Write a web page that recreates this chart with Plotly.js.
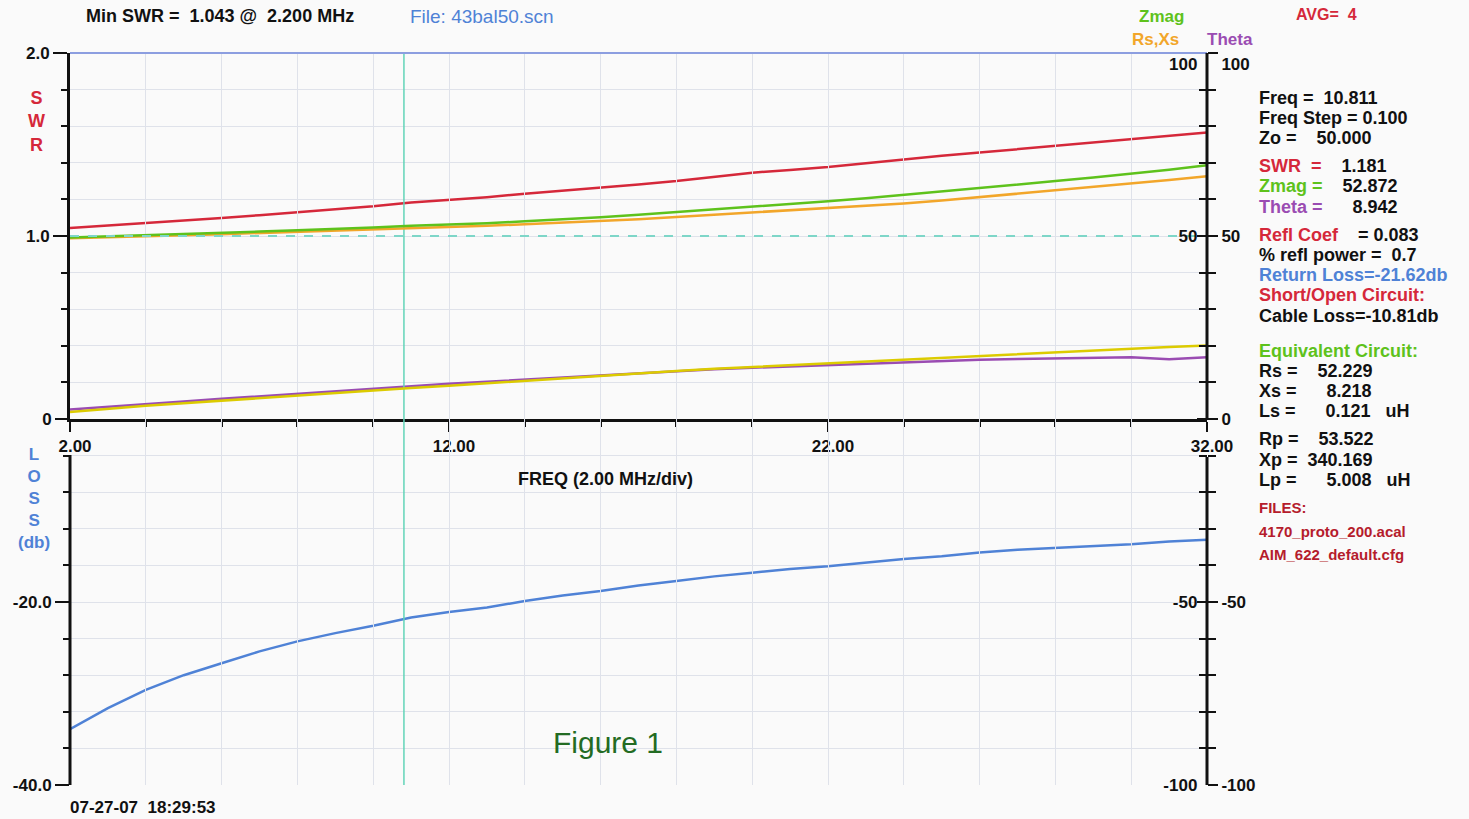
<!DOCTYPE html>
<html>
<head>
<meta charset="utf-8">
<script src="https://cdn.plot.ly/plotly-3.0.1.min.js"></script>
<style>html,body{margin:0;padding:0;background:#fafafa;}#chart{width:1469px;height:819px;}</style>
</head>
<body>
<div id="chart"></div>
<script>
// ---- data ----
const freqMHz = [2,3,4,5,6,7,8,9,10,11,12,13,14,15,16,17,18,19,20,21,22,23,24,25,26,27,28,29,30,31,32];
const swr     = [1.044,1.057,1.071,1.085,1.099,1.114,1.130,1.143,1.162,1.183,1.196,1.212,1.231,1.247,1.264,1.282,1.300,1.323,1.346,1.361,1.377,1.398,1.419,1.438,1.456,1.475,1.493,1.512,1.530,1.548,1.566];
const zmag    = [49.6,49.9,50.2,50.5,50.8,51.2,51.6,51.9,52.3,52.8,53.1,53.5,54.0,54.5,55.1,55.8,56.5,57.3,58.1,58.8,59.5,60.3,61.2,62.2,63.2,64.1,65.0,66.0,67.0,68.1,69.3];
const rs      = [49.4,49.6,49.9,50.2,50.5,50.8,51.1,51.4,51.7,52.1,52.4,52.8,53.2,53.6,54.1,54.6,55.2,55.8,56.4,57.0,57.6,58.2,58.9,59.7,60.6,61.5,62.4,63.3,64.3,65.3,66.3];
const xs      = [1.9,2.8,3.6,4.3,5.0,5.8,6.6,7.3,8.0,8.5,9.1,9.8,10.5,11.2,11.9,12.5,13.1,13.7,14.2,14.7,15.2,15.7,16.3,16.8,17.4,17.8,18.3,18.8,19.2,19.7,20.1];
const theta   = [2.6,3.4,4.1,4.8,5.5,6.2,6.9,7.6,8.4,9.0,9.6,10.2,10.8,11.4,12.0,12.6,13.1,13.6,14.0,14.4,14.8,15.2,15.6,15.9,16.2,16.4,16.5,16.7,16.9,16.3,16.9];
const lossDb  = [-33.9,-31.6,-29.6,-28.0,-26.7,-25.4,-24.3,-23.4,-22.6,-21.7,-21.1,-20.6,-19.9,-19.3,-18.8,-18.2,-17.7,-17.2,-16.8,-16.4,-16.1,-15.7,-15.3,-15.0,-14.6,-14.3,-14.1,-13.9,-13.7,-13.4,-13.2];
const cursorFreq = 10.811;
const refOhms = 50;
const freqRange = [2, 32];
const xTickVals = [2, 12, 22, 32];
const xTickText = ['2.00', '12.00', '22.00', '32.00'];
const swrTickVals = [1, 2];
const swrTickText = ['1.0', '2.0'];
const lossTickVals = [-40, -20, 0];
const lossTickText = ['-40.0', '-20.0', '0'];
const ohmTickVals = [-100, -50, 0, 50, 100];
const thetaTickText = ['-100', '-50', '0', '50', '<br>100'];
const rsxsTickText = ['-100', '-50', '', '50', '<br>100'];

// ---- colours ----
const C = {red:'#d5283a', green:'#5ec21c', orange:'#f2a62a', yellow:'#dccb00', purple:'#9a4cb2', blue:'#4f82d6',
           teal:'#62d4b8', dash:'#7ed6c8', grid:'#dfe2ea', top:'#8c9ee0', black:'#111', dkred:'#b51c2c', dkgreen:'#236b23'};

const L=70, R=1207, T=53, B=785;
const px = x => (x-L)/(R-L);
const py = y => (B-y)/(B-T);

const FONT = 'Liberation Sans, Arial, sans-serif';

const traces = [
  {x:freqMHz, y:lossDb, xaxis:'x', yaxis:'y2', mode:'lines', line:{color:C.blue, width:2.5}, name:'Loss'},
  {x:freqMHz, y:theta, xaxis:'x', yaxis:'y3', mode:'lines', line:{color:C.purple, width:2.5}, name:'Theta'},
  {x:freqMHz, y:xs, xaxis:'x', yaxis:'y4', mode:'lines', line:{color:C.yellow, width:2.5}, name:'Xs'},
  {x:freqMHz, y:rs, xaxis:'x', yaxis:'y4', mode:'lines', line:{color:C.orange, width:2.5}, name:'Rs'},
  {x:freqMHz, y:zmag, xaxis:'x', yaxis:'y4', mode:'lines', line:{color:C.green, width:2.5}, name:'Zmag'},
  {x:freqMHz, y:swr, xaxis:'x', yaxis:'y', mode:'lines', line:{color:C.red, width:2.5}, name:'SWR'},
  {x:freqRange, y:[refOhms, refOhms], xaxis:'x', yaxis:'y4', mode:'lines', line:{color:C.dash, width:2, dash:'dash'}, name:'Zo'},
  {x:[cursorFreq, cursorFreq], y:[-100, 100], xaxis:'x', yaxis:'y3', mode:'lines', line:{color:C.teal, width:1.5}, name:'cursor', cliponaxis:false}
];

const tickFont = {family:FONT, size:17, color:C.black, weight:'bold'};

const layout = {
  width:1469, height:819,
  margin:{l:L, r:1469-R, t:T, b:819-B},
  paper_bgcolor:'#fafafa', plot_bgcolor:'rgba(0,0,0,0)',
  showlegend:false,
  font:{family:FONT, size:17, color:C.black},
  xaxis:{
    domain:[0,1], range:freqRange, anchor:'y', side:'bottom',
    tickvals:xTickVals, ticktext:xTickText, tickfont:tickFont, ticklabelshift:5,
    ticks:'outside', ticklen:10, tickwidth:2, tickcolor:C.black,
    showline:true, linewidth:3, linecolor:C.black,
    showgrid:true, gridcolor:C.grid, gridwidth:1, zeroline:false,
    minor:{tick0:2, dtick:2, ticks:'outside', ticklen:5, tickwidth:2, tickcolor:C.black, showgrid:true, gridcolor:C.grid, gridwidth:1}
  },
  yaxis:{
    domain:[0.5,1], range:[0,2], anchor:'x', side:'left',
    tickvals:swrTickVals, ticktext:swrTickText, tickfont:tickFont,
    ticks:'outside', ticklen:14, tickwidth:2, tickcolor:C.black,
    showline:true, linewidth:3, linecolor:C.black,
    showgrid:true, gridcolor:C.grid, zeroline:false,
    minor:{tick0:0, dtick:0.2, ticks:'outside', ticklen:6, tickwidth:2, tickcolor:C.black, showgrid:true, gridcolor:C.grid}
  },
  yaxis2:{
    domain:[0,0.5], range:[-40,0], anchor:'x', side:'left',
    tickvals:lossTickVals, ticktext:lossTickText, tickfont:tickFont,
    ticks:'outside', ticklen:14, tickwidth:2, tickcolor:C.black,
    showline:false,
    showgrid:true, gridcolor:C.grid, zeroline:false,
    minor:{tick0:0, dtick:4, ticks:'outside', ticklen:6, tickwidth:2, tickcolor:C.black, showgrid:true, gridcolor:C.grid}
  },
  yaxis3:{
    domain:[0,1], range:[-100,100], anchor:'x', side:'right',
    tickvals:ohmTickVals, ticktext:thetaTickText, tickfont:tickFont,
    ticks:'outside', ticklen:10, tickwidth:2, tickcolor:C.black,
    showline:false,
    showgrid:false, zeroline:false,
    minor:{tick0:0, dtick:10, ticks:'outside', ticklen:8, tickwidth:2, tickcolor:C.black, showgrid:false}
  },
  yaxis4:{
    domain:[0,1], range:[-100,100], anchor:'x', side:'right', overlaying:'y3',
    tickvals:ohmTickVals, ticktext:rsxsTickText, tickfont:tickFont,
    ticks:'inside', ticklabelposition:'inside', ticklabeloverflow:'allow', ticklen:10, tickwidth:2, tickcolor:C.black,
    showline:false, showgrid:false, zeroline:false,
    minor:{tick0:0, dtick:10, ticks:'inside', ticklen:8, tickwidth:2, tickcolor:C.black, showgrid:false}
  },
  shapes:[
    {type:'line', xref:'paper', yref:'paper', x0:0, x1:1, y0:1, y1:1, line:{color:C.top, width:2}},
    {type:'line', xref:'paper', yref:'paper', x0:0, x1:0, y0:0, y1:py(455), line:{color:C.black, width:3}},
    {type:'line', xref:'paper', yref:'paper', x0:1, x1:1, y0:py(420), y1:1, line:{color:C.black, width:3}},
    {type:'line', xref:'paper', yref:'paper', x0:1, x1:1, y0:0, y1:py(457), line:{color:C.black, width:3}}
  ],
  annotations:[]
};

function ann(text, x, y, o){
  o = o || {};
  layout.annotations.push(Object.assign({
    text:text, xref:'paper', yref:'paper', x:px(x), y:py(y),
    xanchor:'left', yanchor:'middle', showarrow:false,
    font:{family:FONT, size:18, color:C.black}
  }, o));
}
const sp = n => '\u00A0'.repeat(n);
const col = (c, t) => '<span style="color:' + c + '">' + t + '</span>';
const f = (size, color) => ({family:FONT, size:size, color:color});

// header
ann('<b>Min SWR =' + sp(2) + '1.043 @' + sp(2) + '2.200 MHz</b>', 84, 16);
ann('File: 43bal50.scn', 408, 16, {font:f(19, C.blue)});
ann('<b>Zmag</b>', 1161, 17, {xanchor:'center', font:f(17, C.green)});
ann('<b>Rs,Xs</b>', 1155, 40, {xanchor:'center', font:f(17, C.orange)});
ann('<b>Theta</b>', 1230, 40, {xanchor:'center', font:f(17, C.purple)});
ann('<b>AVG=' + sp(2) + '4</b>', 1294, 14, {font:f(16, C.red)});

// axis titles
ann('<b>S<br>W<br>R</b>', 36, 121, {xanchor:'center', font:f(18, C.red)});
ann('<b>L<br>O<br>S<br>S<br>(db)</b>', 34, 498, {xanchor:'center', font:f(17, C.blue)});
ann('<b>FREQ (2.00 MHz/div)</b>', 605, 479, {xanchor:'center'});
ann('Figure 1', 608, 742, {xanchor:'center', font:f(30, C.dkgreen)});
ann('<b>07-27-07' + sp(2) + '18:29:53</b>', 68, 807, {font:f(17, C.black)});

// readout panel
const RX = 1257;
ann('<b>Freq =' + sp(2) + '10.811</b>', RX, 98);
ann('<b>Freq Step = 0.100</b>', RX, 118);
ann('<b>Zo =' + sp(4) + '50.000</b>', RX, 138);
ann('<b>' + col(C.red, 'SWR' + sp(2) + '=') + sp(4) + '1.181</b>', RX, 166);
ann('<b>' + col(C.green, 'Zmag =') + sp(4) + '52.872</b>', RX, 186);
ann('<b>' + col(C.purple, 'Theta =') + sp(6) + '8.942</b>', RX, 207);
ann('<b>' + col(C.red, 'Refl Coef') + sp(4) + '= 0.083</b>', RX, 235);
ann('<b>% refl power =' + sp(2) + '0.7</b>', RX, 255);
ann('<b>Return Loss=-21.62db</b>', RX, 275, {font:f(18, C.blue)});
ann('<b>Short/Open Circuit:</b>', RX, 295, {font:f(18, C.red)});
ann('<b>Cable Loss=-10.81db</b>', RX, 316);
ann('<b>Equivalent Circuit:</b>', RX, 351, {font:f(18, C.green)});
ann('<b>Rs =' + sp(4) + '52.229</b>', RX, 371);
ann('<b>Xs =' + sp(6) + '8.218</b>', RX, 391);
ann('<b>Ls =' + sp(6) + '0.121' + sp(3) + 'uH</b>', RX, 411);
ann('<b>Rp =' + sp(4) + '53.522</b>', RX, 439);
ann('<b>Xp =' + sp(2) + '340.169</b>', RX, 460);
ann('<b>Lp =' + sp(6) + '5.008' + sp(3) + 'uH</b>', RX, 480);
ann('<b>FILES:</b>', RX, 507, {font:f(15, C.dkred)});
ann('<b>4170_proto_200.acal</b>', RX, 531, {font:f(15, C.dkred)});
ann('<b>AIM_622_default.cfg</b>', RX, 554, {font:f(15, C.dkred)});

Plotly.newPlot('chart', traces, layout, {displayModeBar:false, staticPlot:true});
</script>
</body>
</html>
